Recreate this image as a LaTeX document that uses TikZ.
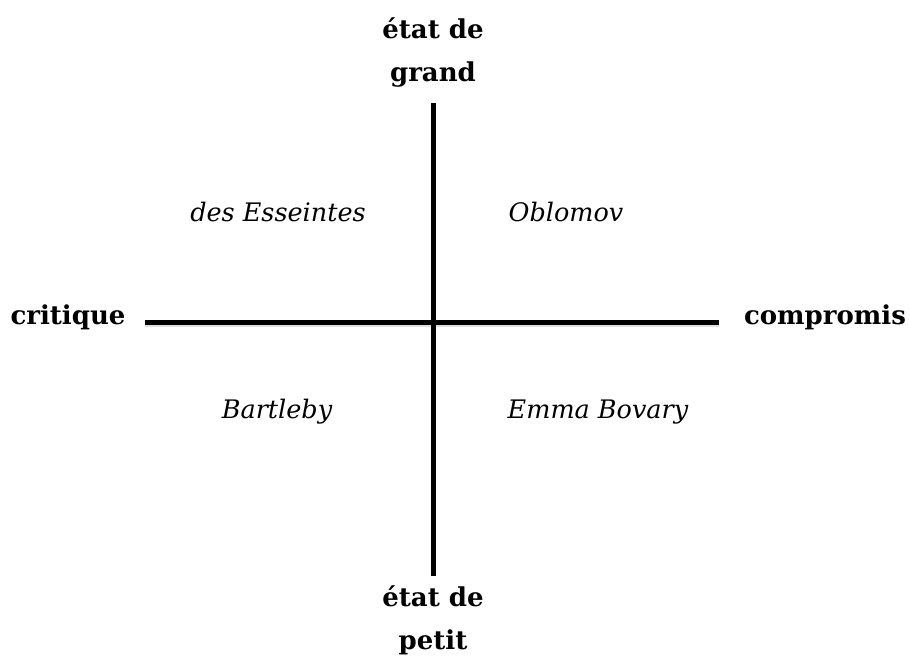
\documentclass[tikz,border=0pt]{standalone}
\usepackage{fontspec}
\setmainfont{DejaVu Serif}
\begin{document}
\begin{tikzpicture}[x=1pt,y=-1pt,
  axe/.style={font=\fontsize{26}{43}\selectfont\bfseries,align=center},
  nom/.style={font=\fontsize{25.5}{30}\selectfont\itshape}]
\useasboundingbox (0,0) rectangle (909,659);
\coordinate (haut) at (433,103);
\coordinate (bas) at (433,576);
\coordinate (gauche) at (145,322);
\coordinate (droite) at (719,322);
\draw[line width=3pt,gray!25] ([yshift=-3.5pt]gauche) -- ([yshift=-3.5pt]droite);
\draw[line width=5pt] (haut) -- (bas);
\draw[line width=5pt] (gauche) -- (droite);
\node[axe] (grand) at (433,52) {état de\\grand};
\node[axe] (petit) at (433,620) {état de\\petit};
\node[axe] (critique) at (68,317) {critique};
\node[axe] (compromis) at (825,317) {compromis};
\node[nom] (esseintes) at (278,212) {des Esseintes};
\node[nom] (oblomov) at (566,212) {Oblomov};
\node[nom] (bartleby) at (277,412) {Bartleby};
\node[nom] (bovary) at (598,412) {Emma Bovary};
\end{tikzpicture}
\end{document}
